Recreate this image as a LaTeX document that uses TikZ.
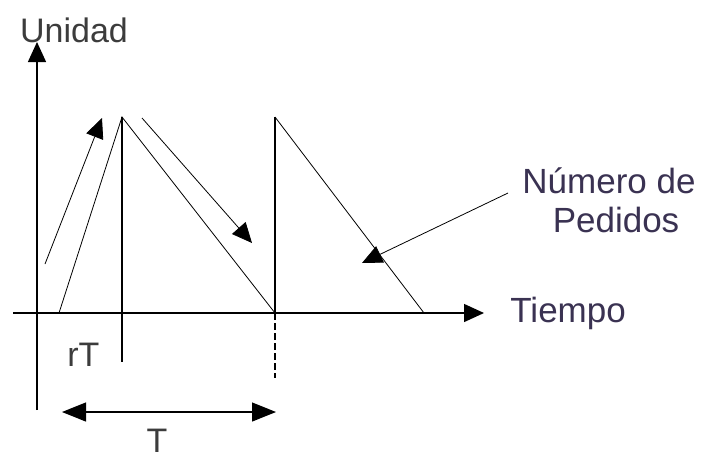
\documentclass[tikz,border=0pt]{standalone}
\usepackage{fontspec}
\setmainfont{Liberation Sans}
\usetikzlibrary{arrows.meta, calc}

\definecolor{inkgray}{RGB}{60,60,60}
\definecolor{inkpurple}{RGB}{58,50,82}

\begin{document}
\begin{tikzpicture}[x=1pt, y=-1pt, thick,
        lbl/.style={font=\fontsize{34}{38}\selectfont, text=inkgray, inner sep=0pt},
        lblp/.style={lbl, font=\fontsize{35}{39}\selectfont, text=inkpurple},
        axis/.style={line width=1.4pt},
        thinline/.style={line width=0.8pt},
        tip/.style={-{Triangle[length=20pt, width=18pt]}},
        bigtip/.style={{Triangle[length=24pt, width=19pt]}-{Triangle[length=24pt, width=19pt]}}]
            \useasboundingbox (0,0) rectangle (707,459);

            % axes
            \coordinate (Y0) at (37,410);
            \coordinate (Y1) at (37,42);
            \coordinate (X0) at (13,313);
            \coordinate (X1) at (484,313);
            \draw[axis, tip] (Y0) -- (Y1);
            \draw[axis, tip] (X0) -- (X1);
            \node[lbl, anchor=base] (unidad) at (74,42) {Unidad};
            \node[lblp, anchor=base west] (tiempo) at (510,322) {Tiempo};

            % first cycle
            \coordinate (S1) at (59,313);
            \coordinate (P1) at (122,117);
            \coordinate (R1) at (122,362);
            \coordinate (E1) at (275,313);
            \draw[thinline] (S1) -- (P1) -- (E1);
            \draw[axis] (P1) -- (R1);

            % second cycle
            \coordinate (P2) at (275,117);
            \coordinate (E2) at (424,313);
            \coordinate (D2) at (275,378);
            \draw[axis] (E1) -- (P2);
            \draw[thinline] (P2) -- (E2);
            \draw[line width=1.6pt, dash pattern=on 7pt off 3pt] (E1) -- (D2);

            % direction arrows
            \coordinate (U0) at (45,264);
            \coordinate (U1) at (102,118);
            \coordinate (D0) at (142,118);
            \coordinate (D1) at (252,243);
            \draw[thinline, tip] (U0) -- (U1);
            \draw[thinline, tip] (D0) -- (D1);

            % labels
            \node[lblp, anchor=base west] (num) at (522,193) {Número de};
            \node[lblp, anchor=base] (ped) at (616,232) {Pedidos};
            \coordinate (Q1) at (362,263);
            \draw[thinline, tip] ($(num.base west)+(-14,0)$) -- (Q1);

            \node[lbl, anchor=base west] (rT) at (67,366) {rT};

            % period
            \coordinate (T0) at (62,412);
            \coordinate (T1) at (276,412);
            \draw[line width=1.2pt, bigtip] (T0) -- (T1);
            \node[lbl, anchor=base] (T) at (157,452) {T};
        \end{tikzpicture}
\end{document}
